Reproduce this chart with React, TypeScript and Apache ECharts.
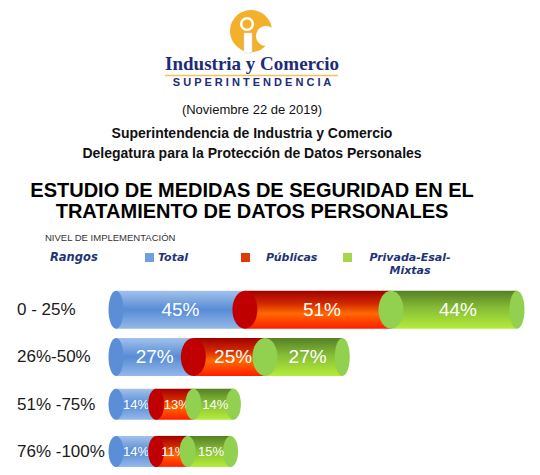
import React, { useEffect, useRef } from "react";
import * as echarts from "echarts";

const CATEGORIES = ["0 - 25%", "26%-50%", "51% -75%", "76% -100%"];
const TOTAL = [45, 27, 14, 14];
const PUBLICAS = [51, 25, 13, 11];
const PRIVADA = [44, 27, 14, 15];
const SERIES_NAMES = ["Total", "Públicas", "Privada-Esal-Mixtas"];
const LEGEND_LABELS = ["Total", "Públicas", "Privada-Esal-\nMixtas"];

const SANS = "'Liberation Sans', Arial, sans-serif";
const VERD = "'DejaVu Sans', Verdana, sans-serif";
const NAVY = "#1F3477";

const STYLES = [
  {
    cap: "#5B8ED7",
    legend: "#6FA0DE",
    stops: [
      [0, "#A3C2EB"],
      [0.5, "#578CD6"],
      [1, "#94B8E8"],
    ],
  },
  {
    cap: "#C00000",
    legend: "#DE3A08",
    stops: [
      [0, "#9E0000"],
      [0.35, "#D42A00"],
      [0.6, "#FF6A00"],
      [1, "#FF1E00"],
    ],
  },
  {
    cap: "#92D050",
    legend: "#A4D84A",
    stops: [
      [0, "#557F25"],
      [0.45, "#86BC37"],
      [1, "#B4EC3A"],
    ],
  },
];

export default function App() {
  const ref = useRef<HTMLDivElement>(null);

  useEffect(() => {
    if (!ref.current) return;
    const chart = echarts.init(ref.current, undefined, { renderer: "svg" });
    const groups = [TOTAL, PUBLICAS, PRIVADA];

    const series = groups.map((vals, k) => {
      const data = vals.map((v, i) => {
        let start = 0;
        for (let j = 0; j < k; j++) start += groups[j][i];
        return [start, start + v, i, v];
      });
      const st = STYLES[k];
      const isLast = k === groups.length - 1;
      return {
        type: "custom",
        name: SERIES_NAMES[k],
        coordinateSystem: "cartesian2d",
        encode: { x: [0, 1], y: 2 },
        z: 2 + k,
        clip: false,
        data,
        renderItem: (params: any, api: any) => {
          const cat = api.value(2);
          const s = api.coord([api.value(0), cat]);
          const e = api.coord([api.value(1), cat]);
          const big = cat < 2;
          const h = big ? 38 : 31;
          const outerRx = 7.5;
          const innerRx = big ? 12.5 : 8;
          const rxLeft = k === 0 ? outerRx : innerRx;
          const cy = s[1];
          const grad = new echarts.graphic.LinearGradient(
            0,
            0,
            0,
            1,
            st.stops.map(([o, c]) => ({ offset: o as number, color: c as string }))
          );
          const children: any[] = [
            {
              type: "rect",
              shape: { x: s[0], y: cy - h / 2, width: e[0] - s[0], height: h },
              style: { fill: grad },
            },
            {
              type: "ellipse",
              shape: { cx: s[0], cy, rx: rxLeft, ry: h / 2 },
              style: { fill: st.cap },
            },
          ];
          if (isLast) {
            children.push({
              type: "ellipse",
              shape: { cx: e[0], cy, rx: outerRx, ry: h / 2 },
              style: { fill: st.cap },
            });
          }
          children.push({
            type: "text",
            x: (s[0] + e[0]) / 2 + (k === 0 ? 0 : big ? 4 : 2),
            y: cy,
            style: {
              text: api.value(3) + "%",
              fill: "#ffffff",
              fontSize: big ? 19 : 13,
              fontFamily: SANS,
              align: "center",
              textAlign: "center",
              verticalAlign: "middle",
              textVerticalAlign: "middle",
            },
          });
          return { type: "group", children };
        },
      };
    });

    const legendEls: any[] = [];
    const legendPos = [
      { sx: 145, tx: 158 },
      { sx: 241, tx: 266 },
      { sx: 343, tx: 410 },
    ];
    LEGEND_LABELS.forEach((label, k) => {
      const p = legendPos[k];
      legendEls.push({
        type: "rect",
        shape: { x: p.sx, y: 253, width: 9, height: 9 },
        style: { fill: STYLES[k].legend },
      });
      legendEls.push({
        type: "text",
        x: p.tx,
        y: 251,
        style: {
          text: label,
          fill: NAVY,
          fontSize: 11,
          fontWeight: "bold",
          fontStyle: "italic",
          fontFamily: VERD,
          align: k === 2 ? "center" : "left",
          textAlign: k === 2 ? "center" : "left",
          verticalAlign: "top",
          textVerticalAlign: "top",
          lineHeight: 13,
        },
      });
    });

    const centerText = (text: string, y: number, size: number, weight: string, extra: any = {}) => ({
      type: "text",
      x: 252,
      y,
      style: {
        text,
        fill: "#111",
        fontSize: size,
        fontWeight: weight,
        fontFamily: SANS,
        align: "center",
        textAlign: "center",
        verticalAlign: "middle",
        textVerticalAlign: "middle",
        ...extra,
      },
    });

    chart.setOption({
      animation: false,
      backgroundColor: "#ffffff",
      grid: { left: 116, right: 23, top: 286, height: 196 },
      xAxis: { type: "value", min: 0, max: 140, show: false },
      yAxis: {
        type: "category",
        data: CATEGORIES,
        inverse: true,
        axisLine: { show: false },
        axisTick: { show: false },
        splitLine: { show: false },
        axisLabel: {
          align: "left",
          margin: 99,
          fontSize: 17,
          color: "#1a1a1a",
          fontFamily: SANS,
        },
      },
      graphic: [
        // logo
        { type: "circle", shape: { cx: 251, cy: 31, r: 21 }, style: { fill: "#F3B02A" } },
        { type: "circle", shape: { cx: 266, cy: 36, r: 10 }, style: { fill: "#ffffff" } },
        { type: "rect", shape: { x: 244, y: 33, width: 8, height: 20 }, style: { fill: "#ffffff", stroke: "#d8d8d8", lineWidth: 0.6 } },
        { type: "circle", shape: { cx: 247, cy: 24, r: 7 }, style: { fill: "#ffffff" } },
        { type: "circle", shape: { cx: 247, cy: 24, r: 4.5 }, style: { fill: "#F3B02A" } },
        {
          type: "text",
          x: 252,
          y: 63,
          style: {
            text: "Industria y Comercio",
            fill: "#1E2B78",
            fontSize: 19,
            fontWeight: "bold",
            fontFamily: "'Liberation Serif', 'Times New Roman', serif",
            align: "center",
            textAlign: "center",
            verticalAlign: "middle",
            textVerticalAlign: "middle",
          },
        },
        { type: "line", shape: { x1: 165, y1: 75.5, x2: 338, y2: 75.5 }, style: { stroke: "#F5C35A", lineWidth: 1.5 } },
        {
          type: "text",
          x: 252,
          y: 82,
          style: {
            text: "S U P E R I N T E N D E N C I A",
            fill: "#1E2B78",
            fontSize: 11,
            fontWeight: "bold",
            fontFamily: SANS,
            align: "center",
            textAlign: "center",
            verticalAlign: "middle",
            textVerticalAlign: "middle",
          },
        },
        centerText("(Noviembre 22 de 2019)", 109, 13, "normal"),
        centerText("Superintendencia de Industria y Comercio", 133, 14, "bold"),
        centerText("Delegatura para la Protección de Datos Personales", 153, 14, "bold"),
        centerText("ESTUDIO DE MEDIDAS DE SEGURIDAD EN EL", 190, 20, "bold", { fill: "#000" }),
        centerText("TRATAMIENTO DE DATOS PERSONALES", 211, 20, "bold", { fill: "#000" }),
        {
          type: "text",
          x: 45,
          y: 237,
          style: {
            text: "NIVEL DE IMPLEMENTACIÓN",
            fill: "#333",
            fontSize: 9.5,
            fontFamily: SANS,
            align: "left",
            textAlign: "left",
            verticalAlign: "middle",
            textVerticalAlign: "middle",
          },
        },
        {
          type: "text",
          x: 50,
          y: 251,
          style: {
            text: "Rangos",
            fill: NAVY,
            fontSize: 11.5,
            fontWeight: "bold",
            fontStyle: "italic",
            fontFamily: VERD,
            align: "left",
            textAlign: "left",
            verticalAlign: "top",
            textVerticalAlign: "top",
          },
        },
        ...legendEls,
      ],
      series,
    });

    return () => chart.dispose();
  }, []);

  return (
    <div
      ref={ref}
      style={{ position: "fixed", left: 0, top: 0, width: 540, height: 475, background: "#fff" }}
    />
  );
}
